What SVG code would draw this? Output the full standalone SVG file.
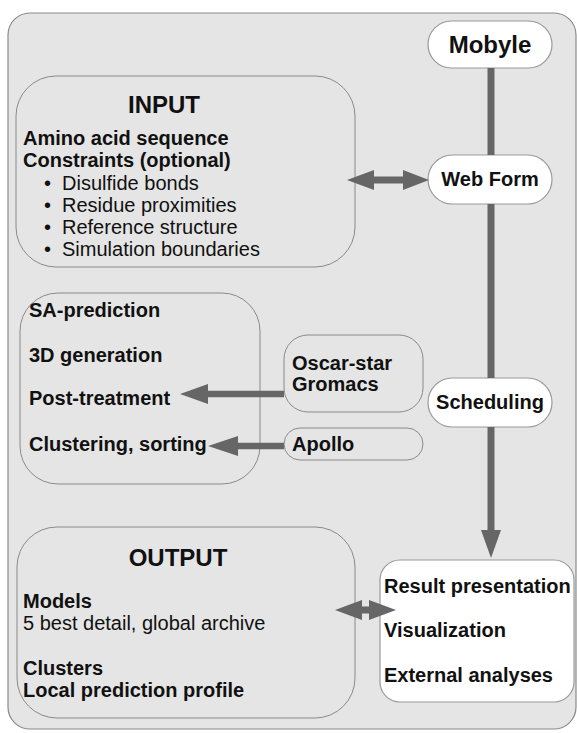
<svg xmlns="http://www.w3.org/2000/svg" width="577" height="733" viewBox="0 0 577 733">
<style>
.bg{fill:#ffffff}
.panel{fill:#e5e5e5;stroke:#8a8a8a;stroke-width:1.2}
.box{fill:#e5e5e5;stroke:#8a8a8a;stroke-width:1}
.pill{fill:#ffffff;stroke:#9a9a9a;stroke-width:1.2}
.arr{fill:#666666;stroke:none}
.line{stroke:#666666;stroke-width:7;fill:none}
text{font-family:"Liberation Sans",Arial,sans-serif;fill:#111111}
.t{font-size:24px;font-weight:bold}
.b{font-size:20px;font-weight:bold}
.r{font-size:20px}
.c{text-anchor:middle}
</style>
<rect class="bg" x="0" y="0" width="577" height="733"/>
<rect class="panel" x="8" y="13" width="568" height="716" rx="22"/>

<g id="mobyle">
  <rect class="pill" x="428" y="21" width="124" height="47" rx="23.5"/>
  <text class="t c" x="490" y="53">Mobyle</text>
</g>

<g id="input">
  <rect class="box" x="16" y="76" width="339" height="191" rx="40"/>
  <text class="t c" x="164" y="113">INPUT</text>
  <text class="b" x="23" y="145">Amino acid sequence</text>
  <text class="b" x="23" y="167">Constraints (optional)</text>
  <text class="r" x="44" y="190">•</text><text class="r" x="62" y="190">Disulfide bonds</text>
  <text class="r" x="44" y="212">•</text><text class="r" x="62" y="212">Residue proximities</text>
  <text class="r" x="44" y="234">•</text><text class="r" x="62" y="234">Reference structure</text>
  <text class="r" x="44" y="256">•</text><text class="r" x="62" y="256">Simulation boundaries</text>
</g>

<g id="webform">
  <rect class="pill" x="428" y="155" width="124" height="49" rx="24.5"/>
  <text class="b c" x="490" y="186">Web Form</text>
</g>

<g id="pipeline">
  <rect class="box" x="20" y="293" width="240" height="191" rx="38"/>
  <text class="b" x="29" y="317">SA-prediction</text>
  <text class="b" x="29" y="362">3D generation</text>
  <text class="b" x="29" y="405">Post-treatment</text>
  <text class="b" x="29" y="451">Clustering, sorting</text>
</g>

<g id="oscar">
  <rect class="box" x="284" y="335" width="139" height="77" rx="24"/>
  <text class="b" x="292" y="370">Oscar-star</text>
  <text class="b" x="292" y="391">Gromacs</text>
</g>

<g id="apollo">
  <rect class="box" x="284" y="428" width="139" height="32" rx="16"/>
  <text class="b" x="292" y="451">Apollo</text>
</g>

<g id="scheduling">
  <rect class="pill" x="428" y="378" width="124" height="49" rx="24.5"/>
  <text class="b c" x="490" y="409">Scheduling</text>
</g>

<g id="output">
  <rect class="box" x="17" y="527" width="338" height="191" rx="40"/>
  <text class="t c" x="178" y="566">OUTPUT</text>
  <text class="b" x="23" y="608">Models</text>
  <text class="r" x="23" y="630">5 best detail, global archive</text>
  <text class="b" x="23" y="675">Clusters</text>
  <text class="b" x="23" y="697">Local prediction profile</text>
</g>

<g id="result">
  <rect class="pill" x="380" y="560" width="194" height="142" rx="20"/>
  <text class="b" x="384" y="593">Result presentation</text>
  <text class="b" x="384" y="637">Visualization</text>
  <text class="b" x="384" y="682">External analyses</text>
</g>

<g id="connectors">
  <line class="line" x1="491" y1="68" x2="491" y2="155"/>
  <line class="line" x1="491" y1="204" x2="491" y2="378"/>
  <line class="line" x1="491" y1="427" x2="491" y2="532"/>
  <polygon class="arr" points="481,530 501,530 491,558"/>
  <polygon class="arr" points="347,180 374,170 374,176.5 403,176.5 403,170 429,180 403,190 403,183.5 374,183.5 374,190"/>
  <polygon class="arr" points="180,394 208,384 208,390.7 284,390.7 284,397.3 208,397.3 208,404"/>
  <polygon class="arr" points="208,446 238,436 238,442.7 284,442.7 284,449.3 238,449.3 238,456"/>
  <polygon class="arr" points="335,610 362,600 362,606.5 369,606.5 369,600 396,610 369,620 369,613.5 362,613.5 362,620"/>
</g>
</svg>
